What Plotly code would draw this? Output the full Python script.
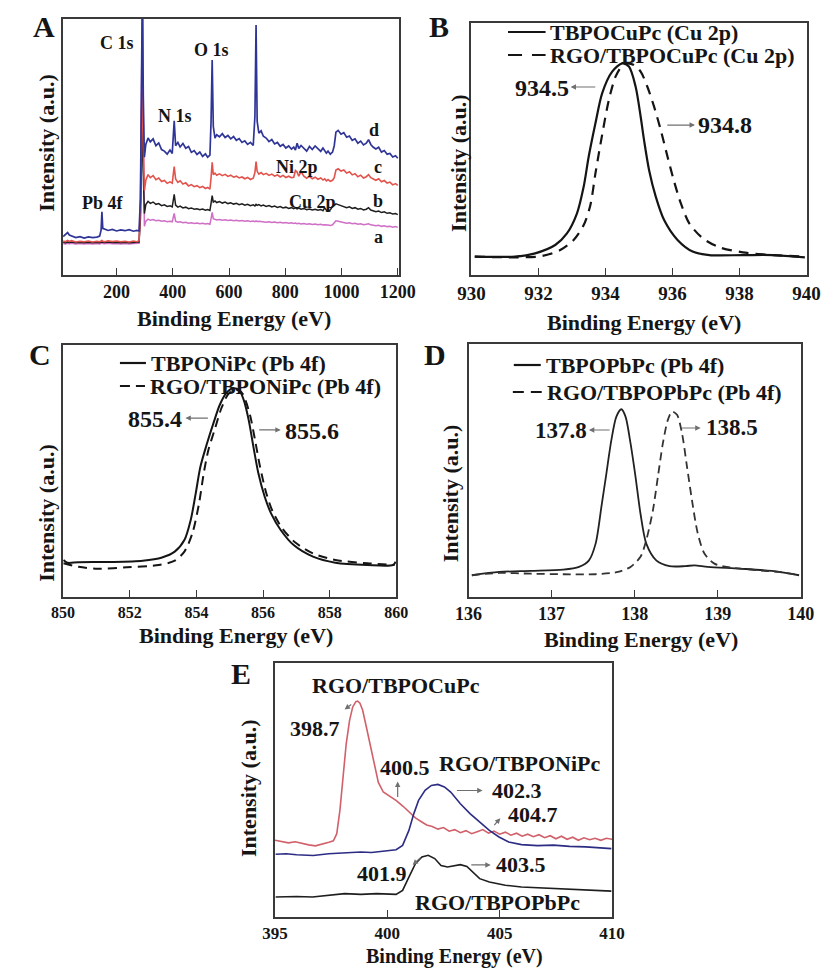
import plotly.graph_objects as go

FONT = "Liberation Serif"
W, H = 838, 969
INK = "#151515"
FRAME = "#3a3a3a"
ARROW = "#707070"

# ---------------- Panel A : survey spectra ----------------
A_x = [10, 18, 26, 32, 40, 55, 70, 85, 100, 115,
       130, 140, 145, 148, 151, 158, 170, 185, 200, 215,
       230, 245, 260, 272, 280, 285, 289, 292, 295, 299,
       304, 312, 320, 330, 340, 350, 360, 370, 380, 390,
       398, 405, 410, 418, 426, 436, 446, 456, 466, 476,
       486, 496, 506, 516, 524, 532, 536, 540, 544, 550,
       556, 566, 576, 586, 596, 606, 616, 626, 636, 646,
       656, 666, 676, 686, 692, 696, 700, 706, 714, 722,
       732, 742, 752, 762, 772, 782, 792, 802, 812, 822,
       830, 836, 842, 848, 856, 866, 876, 886, 896, 906,
       916, 926, 934, 940, 946, 952, 960, 968, 974, 980,
       988, 998, 1008, 1018, 1028, 1038, 1048, 1058, 1068, 1078,
       1088, 1096, 1104, 1112, 1122, 1132, 1142, 1152, 1162, 1172,
       1182, 1192, 1200]
A_d = [15.0, 15.8, 16.6, 15.6, 15.2, 14.6, 15.0, 14.4, 14.9, 14.6,
       14.8, 15.2, 17.5, 24.7, 18.2, 17.9, 17.4, 17.8, 17.2, 17.6,
       17.3, 17.7, 17.1, 17.4, 17.2, 30.0, 80.0, 115.0, 70.0, 46.0,
       51.0, 53.5, 52.0, 53.2, 50.5, 51.6, 49.0, 48.4, 47.2, 48.8,
       47.5, 60.2, 50.5, 51.8, 50.0, 51.4, 49.5, 50.2, 47.9, 48.6,
       47.1, 48.0, 46.3, 47.3, 46.0, 46.8, 60.0, 84.0, 58.0, 53.5,
       54.8, 54.0, 55.2, 53.7, 54.5, 53.2, 54.1, 52.6, 53.3, 51.8,
       52.4, 51.0, 51.8, 50.6, 62.0, 97.7, 60.0, 55.4, 56.3, 54.2,
       53.5, 52.1, 52.9, 51.2, 51.8, 50.3, 51.0, 49.6, 50.4, 49.2,
       50.0, 48.8, 51.5, 49.4, 50.6, 49.5, 48.4, 50.2, 49.0, 50.4,
       49.3, 48.3, 49.6, 48.5, 47.6, 48.4, 47.2, 48.0, 50.5, 55.8,
       56.5, 55.0, 55.6, 53.8, 54.3, 52.6, 53.2, 51.5, 52.3, 50.8,
       51.5, 52.9, 51.0, 50.0, 49.2, 49.9, 48.0, 48.6, 47.2, 47.5,
       46.1, 46.6, 45.6]
A_c = [13.3, 13.0, 13.5, 13.1, 13.4, 12.9, 13.2, 13.0, 13.3, 12.9,
       13.2, 13.0, 13.3, 13.5, 13.2, 13.0, 13.4, 13.1, 13.3, 13.0,
       13.2, 12.9, 13.3, 13.0, 13.4, 25.0, 65.0, 72.0, 50.0, 33.0,
       37.0, 39.2, 38.0, 38.8, 37.2, 37.9, 36.5, 36.9, 35.8, 36.4,
       35.9, 42.3, 37.5, 36.2, 36.8, 35.5, 36.0, 34.8, 35.3, 34.5,
       34.9, 34.1, 34.6, 33.8, 34.2, 33.5, 38.0, 44.0, 39.2, 39.8,
       39.0, 39.5, 38.8, 39.3, 38.5, 39.0, 38.2, 38.6, 37.9, 38.3,
       37.6, 38.1, 37.3, 37.8, 40.0, 44.3, 40.5, 39.4, 40.0, 39.2,
       39.7, 38.9, 39.4, 38.6, 39.1, 38.3, 38.9, 38.1, 38.6, 38.0,
       38.2, 40.8, 40.2, 38.6, 40.4, 38.6, 37.8, 38.5, 37.6, 38.2,
       37.4, 37.9, 37.1, 37.6, 36.8, 37.3, 36.6, 37.0, 38.0, 41.0,
       41.5, 40.6, 41.0, 39.8, 40.3, 39.1, 39.6, 38.4, 39.0, 37.9,
       38.4, 39.2, 38.0, 37.5, 37.0, 37.6, 36.4, 36.9, 35.9, 36.3,
       35.2, 35.7, 35.0]
A_b = [12.8, 12.6, 12.9, 12.7, 12.9, 12.6, 12.8, 12.6, 12.8, 12.6,
       12.8, 12.6, 12.9, 13.0, 12.8, 12.7, 12.9, 12.7, 12.8, 12.6,
       12.8, 12.6, 12.8, 12.7, 12.9, 22.0, 55.0, 62.0, 40.0, 24.0,
       27.5, 28.8, 28.0, 28.5, 27.6, 27.9, 27.1, 27.4, 26.8, 27.0,
       26.6, 31.5, 27.3, 26.5, 26.9, 26.2, 26.5, 25.9, 26.2, 25.7,
       25.9, 25.5, 25.8, 25.3, 25.6, 25.2, 28.0, 31.0, 28.5, 28.9,
       28.3, 28.7, 28.1, 28.5, 27.9, 28.2, 27.7, 28.0, 27.5, 27.8,
       27.3, 27.6, 27.1, 27.4, 27.0, 27.6, 27.2, 27.5, 27.0, 27.3,
       26.8, 27.1, 26.6, 26.9, 26.4, 26.7, 26.2, 26.5, 26.0, 26.3,
       25.9, 26.2, 25.8, 26.1, 25.7, 26.0, 25.5, 25.8, 25.4, 25.7,
       25.3, 25.6, 25.1, 26.2, 25.3, 25.0, 25.4, 26.8, 27.2, 27.8,
       27.5, 27.0, 26.8, 26.3, 26.6, 26.0, 26.3, 25.7, 26.0, 25.4,
       25.7, 26.3, 25.4, 25.0, 24.7, 25.0, 24.4, 24.7, 24.1, 24.3,
       23.8, 24.0, 23.6]
A_a = [12.3, 12.1, 12.4, 12.2, 12.4, 12.1, 12.3, 12.1, 12.3, 12.1,
       12.3, 12.1, 12.4, 12.6, 12.3, 12.2, 12.4, 12.2, 12.3, 12.1,
       12.3, 12.1, 12.3, 12.2, 12.4, 30.0, 90.0, 112.0, 60.0, 19.0,
       21.0, 21.8, 21.4, 21.7, 21.2, 21.4, 21.0, 21.2, 20.8, 21.0,
       20.8, 24.1, 21.0, 20.6, 20.8, 20.4, 20.6, 20.2, 20.4, 20.1,
       20.3, 20.0, 20.2, 19.9, 20.1, 19.8, 22.0, 24.5, 22.0, 21.8,
       21.5, 21.7, 21.4, 21.6, 21.3, 21.5, 21.2, 21.4, 21.1, 21.3,
       21.0, 21.2, 20.9, 21.1, 20.8, 21.1, 20.9, 21.0, 20.8, 20.9,
       20.6, 20.8, 20.5, 20.7, 20.4, 20.6, 20.3, 20.5, 20.2, 20.4,
       20.1, 20.3, 20.0, 20.2, 19.9, 20.1, 19.8, 20.0, 19.7, 19.9,
       19.6, 19.8, 19.5, 19.6, 19.4, 19.5, 19.3, 19.6, 20.4, 21.2,
       21.0, 20.7, 20.6, 20.2, 20.4, 20.0, 20.2, 19.8, 20.0, 19.6,
       19.8, 20.0, 19.6, 19.4, 19.2, 19.4, 19.0, 19.2, 18.9, 19.0,
       18.7, 18.9, 18.6]
A_ticks = [200, 400, 600, 800, 1000, 1200]

# ---------------- Panel B : Cu 2p ----------------
B_solid_x = [930.1, 931.3, 931.9, 932.5, 932.85, 933.15, 933.35, 933.5, 933.7, 933.9,
             934.2, 934.5, 934.7, 934.9, 935.05, 935.15, 935.3, 935.5, 935.75, 936.15,
             936.6, 937.1, 938.1, 939.0, 939.95]
B_solid_y = [7.3, 7.3, 8.6, 11.9, 16.5, 24.5, 35.1, 47.0, 60.2, 72.1,
             80.7, 84.0, 82.7, 74.7, 62.8, 53.6, 41.7, 31.1, 21.8, 13.9,
             9.3, 7.9, 7.9, 7.9, 7.0]
B_dash_x = [930.1, 931.3, 932.1, 932.65, 933.05, 933.35, 933.55, 933.7, 933.9, 934.1,
            934.3, 934.5, 934.65, 934.85, 935.05, 935.25, 935.45, 935.65, 935.85, 936.05,
            936.25, 936.5, 936.9, 937.4, 938.1, 939.0, 939.95]
B_dash_y = [7.3, 7.0, 7.5, 9.9, 13.9, 19.8, 27.8, 40.3, 55.6, 69.4,
            78.7, 83.1, 84.0, 83.3, 80.7, 74.7, 66.8, 57.5, 47.0, 37.0,
            28.4, 20.5, 14.6, 11.0, 9.0, 7.9, 7.3]
B_ticks = [930, 932, 934, 936, 938, 940]

# ---------------- Panel C : Ni ----------------
C_solid_x = [850.01, 850.13, 850.46, 851.43, 852.39, 852.97, 853.35, 853.64, 853.83, 853.98,
             854.12, 854.32, 854.51, 854.70, 854.89, 855.09, 855.28, 855.42, 855.57, 855.71,
             855.86, 856.05, 856.24, 856.53, 856.92, 857.50, 858.17, 859.13, 859.90, 859.98]
C_solid_y = [14.7, 13.6, 13.8, 13.9, 14.4, 15.7, 18.0, 22.6, 30.6, 41.1,
             51.7, 61.0, 68.9, 76.2, 80.8, 82.8, 82.1, 78.2, 70.2, 59.7,
             49.1, 39.8, 33.2, 26.6, 20.6, 16.0, 13.6, 12.7, 12.7, 14.0]
C_dash_x = [850.01, 850.46, 851.04, 851.91, 852.87, 853.35, 853.64, 853.88, 854.08, 854.22,
            854.36, 854.56, 854.75, 854.94, 855.13, 855.33, 855.47, 855.62, 855.76, 855.91,
            856.10, 856.29, 856.58, 856.97, 857.50, 858.17, 859.13, 859.95]
C_dash_y = [13.4, 12.0, 11.2, 11.8, 12.7, 14.4, 18.0, 25.3, 37.2, 49.1,
            58.3, 66.9, 74.9, 80.2, 82.4, 81.5, 78.2, 71.6, 62.3, 51.7,
            41.1, 33.9, 27.2, 21.6, 17.3, 14.7, 13.4, 12.7]
C_ticks = [850, 852, 854, 856, 858, 860]

# ---------------- Panel D : Pb 4f ----------------
D_solid_x = [136.04, 136.37, 136.75, 137.14, 137.33, 137.45, 137.53, 137.60, 137.66, 137.72,
             137.78, 137.84, 137.89, 137.95, 138.01, 138.07, 138.14, 138.26, 138.42, 138.61,
             138.72, 138.88, 139.27, 139.65, 139.98]
D_solid_y = [8.6, 9.9, 10.3, 10.8, 11.9, 14.5, 21.1, 35.7, 48.9, 62.1,
             71.3, 74.2, 71.3, 60.8, 47.6, 33.0, 21.1, 14.5, 12.2, 12.2,
             12.5, 11.9, 11.2, 10.3, 8.6]
D_dash_x = [136.04, 136.37, 136.75, 137.14, 137.53, 137.80, 137.95, 138.07, 138.14, 138.22,
            138.28, 138.34, 138.40, 138.45, 138.51, 138.57, 138.63, 138.69, 138.76, 138.84,
            138.96, 139.11, 139.46, 139.73, 139.98]
D_dash_y = [8.6, 9.5, 9.2, 9.0, 9.0, 9.9, 11.9, 15.9, 22.5, 34.3,
            47.6, 60.8, 70.0, 73.3, 72.0, 64.7, 51.5, 38.3, 25.1, 17.2,
            13.2, 11.9, 10.6, 9.9, 8.6]
D_ticks = [136, 137, 138, 139, 140]

# ---------------- Panel E : N 1s ----------------
E_cu_x = [395.0, 395.3, 395.6, 395.9, 396.2, 396.5, 396.8, 397.1, 397.4, 397.6,
          397.75, 397.89, 398.03, 398.17, 398.32, 398.46, 398.6, 398.68, 398.78, 398.9,
          399.05, 399.2, 399.4, 399.6, 399.82, 400.1, 400.4, 400.7, 401.0, 401.25,
          401.5, 401.75, 402.0, 402.25, 402.5, 402.75, 403.0, 403.25, 403.5, 403.75,
          404.0, 404.25, 404.5, 404.75, 405.0, 405.25, 405.5, 405.75, 406.0, 406.25,
          406.5, 406.75, 407.0, 407.25, 407.5, 407.75, 408.0, 408.25, 408.5, 408.75,
          409.0, 409.25, 409.5, 409.75, 410.0]
E_cu_y = [30.2, 29.8, 29.2, 29.6, 28.9, 28.4, 28.0, 28.6, 29.4, 30.0,
          32.8, 42.0, 55.1, 68.2, 77.4, 82.7, 84.8, 85.0, 84.2, 81.5,
          75.5, 69.0, 61.5, 53.0, 49.2, 47.5, 45.8, 43.6, 40.9, 39.0,
          37.6, 36.2, 35.6, 34.6, 35.2, 33.8, 34.4, 33.2, 34.0, 32.8,
          33.6, 34.4, 33.0, 33.8, 32.6, 33.4, 32.2, 33.0, 31.8, 32.6,
          31.6, 32.4, 31.2, 32.0, 30.8, 31.8, 30.6, 31.4, 30.2, 31.2,
          30.4, 31.0, 30.2, 31.0, 30.6]
E_ni_x = [395.03, 395.5, 395.96, 396.7, 397.39, 398.1, 398.82, 399.3, 399.82, 400.39,
          400.68, 400.96, 401.18, 401.39, 401.68, 401.96, 402.25, 402.54, 402.82, 403.25,
          403.68, 404.11, 404.54, 404.97, 405.40, 405.97, 406.68, 407.4, 408.11, 408.83,
          409.4, 409.97]
E_ni_y = [24.7, 24.9, 24.5, 24.2, 24.9, 25.3, 25.6, 25.4, 26.0, 26.5,
          28.2, 34.1, 40.7, 45.9, 49.9, 51.8, 52.2, 51.2, 49.2, 44.6,
          40.7, 37.4, 34.1, 31.5, 29.5, 28.5, 28.1, 28.3, 27.8, 27.6,
          27.3, 26.9]
E_pb_x = [395.03, 395.96, 396.67, 397.39, 398.10, 398.82, 399.53, 400.39, 400.68, 400.96,
          401.25, 401.54, 401.82, 402.11, 402.39, 402.68, 402.97, 403.25, 403.54, 403.82,
          404.11, 404.54, 405.25, 405.97, 406.68, 407.40, 408.11, 408.83, 409.97]
E_pb_y = [7.9, 8.1, 7.9, 8.5, 9.2, 8.9, 9.2, 8.9, 10.5, 15.7,
          21.0, 23.6, 24.3, 23.0, 20.3, 19.7, 20.3, 20.6, 19.9, 17.7,
          15.1, 13.8, 12.5, 11.8, 11.5, 11.2, 10.8, 10.5, 10.2]
E_ticks = [395, 400, 405, 410]

for xs, ys in [(A_x, A_a), (A_x, A_b), (A_x, A_c), (A_x, A_d),
               (B_solid_x, B_solid_y), (B_dash_x, B_dash_y),
               (C_solid_x, C_solid_y), (C_dash_x, C_dash_y),
               (D_solid_x, D_solid_y), (D_dash_x, D_dash_y),
               (E_cu_x, E_cu_y), (E_ni_x, E_ni_y), (E_pb_x, E_pb_y)]:
    assert len(xs) == len(ys), (len(xs), len(ys))

# ---------------- figure ----------------
fig = go.Figure()


def add(x, y, ax, color, width=2.0, dash="solid", shape="linear", name=None):
    fig.add_trace(go.Scatter(
        x=x, y=y, xaxis="x" + ax, yaxis="y" + ax, mode="lines", name=name,
        showlegend=False, hoverinfo="skip",
        line=dict(color=color, width=width, dash=dash, shape=shape,
                  smoothing=0.8 if shape == "spline" else None)))


add(A_x, A_a, "", "#cf6fc6", 1.5, name="a")
add(A_x, A_b, "", "#1e1e1e", 1.5, name="b")
add(A_x, A_c, "", "#e2534c", 1.6, name="c")
add(A_x, A_d, "", "#2f3597", 1.7, name="d")

add(B_solid_x, B_solid_y, "2", INK, 2.2, shape="spline", name="TBPOCuPc (Cu 2p)")
add(B_dash_x, B_dash_y, "2", INK, 2.2, dash="10px,7px", shape="spline", name="RGO/TBPOCuPc (Cu 2p)")

add(C_solid_x, C_solid_y, "3", INK, 2.0, shape="spline", name="TBPONiPc (Pb 4f)")
add(C_dash_x, C_dash_y, "3", INK, 2.0, dash="9px,6px", shape="spline", name="RGO/TBPONiPc (Pb 4f)")

add(D_solid_x, D_solid_y, "4", "#222222", 1.8, shape="spline", name="TBPOPbPc (Pb 4f)")
add(D_dash_x, D_dash_y, "4", "#333333", 1.8, dash="8px,5px", shape="spline", name="RGO/TBPOPbPc (Pb 4f)")

add(E_cu_x, E_cu_y, "5", "#d0606a", 1.6, name="RGO/TBPOCuPc")
add(E_ni_x, E_ni_y, "5", "#2c2c84", 1.6, name="RGO/TBPONiPc")
add(E_pb_x, E_pb_y, "5", "#1e1e1e", 1.6, name="RGO/TBPOPbPc")


def dom_x(p0, p1):
    return [p0 / W, p1 / W]


def dom_y(top, bottom):
    return [1 - bottom / H, 1 - top / H]


def xax(domain, rng, ticks, anchor, fs, ticklen=7):
    return dict(domain=domain, range=rng, tickvals=ticks, ticks="inside",
                ticklen=ticklen, tickwidth=1.4, tickcolor=FRAME,
                showline=True, mirror=True, linecolor=FRAME, linewidth=1.6,
                showgrid=False, zeroline=False, anchor=anchor,
                ticklabelstandoff=0,
                tickfont=dict(family=FONT, size=fs, color=INK, weight="bold"))


def yax(domain, anchor):
    return dict(domain=domain, range=[0, 100], showticklabels=False, ticks="",
                showline=True, mirror=True, linecolor=FRAME, linewidth=1.6,
                showgrid=False, zeroline=False, anchor=anchor)


fig.update_layout(
    width=W, height=H, margin=dict(l=0, r=0, t=0, b=0),
    paper_bgcolor="white", plot_bgcolor="white", showlegend=False,
    font=dict(family=FONT, color=INK),
    xaxis=xax(dom_x(51, 400), [10, 1205], A_ticks, "y", 18),
    yaxis=yax(dom_y(19, 275), "x"),
    xaxis2=xax(dom_x(475, 823), [930, 940], B_ticks, "y2", 19),
    yaxis2=yax(dom_y(23, 275), "x2"),
    xaxis3=xax(dom_x(51, 397), [850, 860], C_ticks, "y3", 16),
    yaxis3=yax(dom_y(345, 597), "x3"),
    xaxis4=xax(dom_x(472, 817), [136, 140], D_ticks, "y4", 18),
    yaxis4=yax(dom_y(344, 597), "x4"),
    xaxis5=xax(dom_x(271, 621), [395, 410], E_ticks, "y5", 17),
    yaxis5=yax(dom_y(663, 917), "x5"),
)

ann = []
shapes = []


def ptext(px, py, s, size, angle=0, xanchor="center"):
    ann.append(dict(x=px / W, y=1 - py / H, xref="paper", yref="paper", text=s,
                    showarrow=False, textangle=angle, xanchor=xanchor, yanchor="middle",
                    font=dict(family=FONT, size=size, color=INK, weight="bold")))


def dtext(axn, x, y, s, size, xanchor="center"):
    ann.append(dict(x=x, y=y, xref="x" + axn, yref="y" + axn, text=s,
                    showarrow=False, xanchor=xanchor, yanchor="middle",
                    font=dict(family=FONT, size=size, color=INK, weight="bold")))


def arrow(axn, x0, y0, x1, y1):
    ann.append(dict(x=x1, y=y1, ax=x0, ay=y0, xref="x" + axn, yref="y" + axn,
                    axref="x" + axn, ayref="y" + axn, text="", showarrow=True,
                    arrowhead=2, arrowsize=0.9, arrowwidth=1.2, arrowcolor=ARROW,
                    standoff=0, startstandoff=0))


def legend_item(px0, px1, py, dash, label, size):
    shapes.append(dict(type="line", xref="paper", yref="paper",
                       x0=px0 / W, x1=px1 / W, y0=1 - py / H, y1=1 - py / H,
                       line=dict(color=INK, width=2.2, dash=dash)))
    ptext(px1 + 3, py, label, size, xanchor="left")


# panel letters
for L, px, py in [("A", 31, 27), ("B", 441, 27), ("C", 27, 354), ("D", 437, 355), ("E", 236, 673)]:
    ptext(px, py, L, 30)

# axis titles
XT = "Binding Energy (eV)"
YT = "Intensity (a.u.)"
for px, py in [(228, 319), (654, 323), (231, 635), (651, 639)]:
    ptext(px, py, XT, 22)
ptext(457, 956, XT, 20)
for px, py in [(33, 143), (462, 163), (33, 513), (453, 493), (243, 788)]:
    ptext(px, py, YT, 22, angle=-90)

# panel A peak labels
for s, x, y in [("C 1s", 202, 90.6), ("O 1s", 538, 87.9), ("N 1s", 408, 62.1),
                ("Ni 2p", 840, 42.2), ("Cu 2p", 895, 28.5), ("Pb 4f", 151, 28.1),
                ("d", 1114, 56.6), ("c", 1131, 42.2), ("b", 1128, 28.9), ("a", 1131, 14.8)]:
    dtext("", x, y, s, 18)

# panel B
legend_item(513, 552, 32, "solid", "TBPOCuPc (Cu 2p)", 22)
legend_item(513, 552, 55, "14px,10px", "RGO/TBPOCuPc (Cu 2p)", 22)
arrow("2", 933.74, 74.6, 932.96, 74.6)
dtext("2", 932.10, 74.2, "934.5", 24)
arrow("2", 935.80, 59.5, 936.67, 59.5)
dtext("2", 937.56, 59.5, "934.8", 24)

# panel C
legend_item(110, 137, 363, "solid", "TBPONiPc (Pb 4f)", 22)
legend_item(110, 136, 386, "10px,6px", "RGO/TBPONiPc (Pb 4f)", 22)
arrow("3", 854.39, 71.0, 853.67, 71.0)
dtext("3", 852.77, 70.6, "855.4", 24)
arrow("3", 855.84, 66.3, 856.53, 66.3)
dtext("3", 857.46, 65.9, "855.6", 24)

# panel D
legend_item(519, 547, 365, "solid", "TBPOPbPc (Pb 4f)", 22)
legend_item(518, 548, 392, "11px,7px", "RGO/TBPOPbPc (Pb 4f)", 22)
arrow("4", 137.716, 66.0, 137.449, 66.0)
dtext("4", 137.11, 66.0, "137.8", 23)
arrow("4", 138.55, 66.8, 138.794, 66.8)
dtext("4", 139.17, 66.8, "138.5", 23)

# panel E
dtext("5", 400.40, 91.3, "RGO/TBPOCuPc", 22)
dtext("5", 405.89, 60.3, "RGO/TBPONiPc", 22)
dtext("5", 404.90, 5.9, "RGO/TBPOPbPc", 22)
arrow("5", 398.46, 84.1, 398.10, 81.7)
dtext("5", 396.80, 74.4, "398.7", 22)
arrow("5", 400.46, 46.7, 400.46, 53.3)
dtext("5", 400.79, 59.0, "400.5", 22)
arrow("5", 403.03, 49.8, 404.24, 49.8)
dtext("5", 405.76, 49.8, "402.3", 22)
arrow("5", 404.70, 35.6, 405.03, 38.9)
dtext("5", 406.49, 40.2, "404.7", 22)
arrow("5", 401.53, 23.8, 401.13, 20.5)
dtext("5", 399.76, 17.3, "401.9", 22)
arrow("5", 403.67, 20.5, 404.60, 20.5)
dtext("5", 405.93, 20.5, "403.5", 22)

fig.update_layout(annotations=ann, shapes=shapes)
fig.write_html("out.html")
